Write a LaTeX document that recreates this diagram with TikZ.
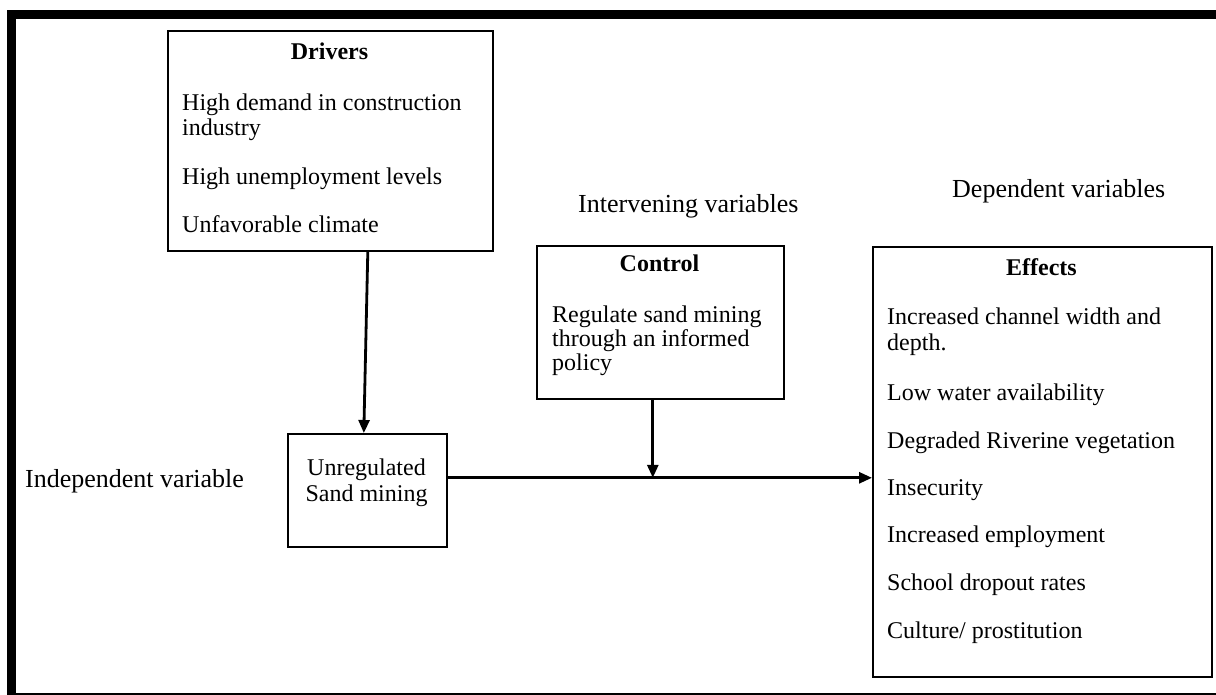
\documentclass[tikz,border=0pt]{standalone}
\usepackage{fontspec}
\setmainfont{Liberation Serif}
\usetikzlibrary{arrows.meta}
\begin{document}
\begin{tikzpicture}[x=1pt,y=-1pt,
  box/.style={draw, line width=1.6pt, inner sep=0pt, anchor=north west},
  txt/.style={anchor=base west, inner sep=0pt, font=\fontsize{24}{27}\selectfont},
  ctxt/.style={anchor=base, inner sep=0pt, font=\fontsize{24}{27}\selectfont},
  ttl/.style={anchor=base, inner sep=0pt, font=\fontsize{24}{27}\selectfont\bfseries},
  lbl/.style={anchor=base west, inner sep=0pt, font=\fontsize{26}{30}\selectfont},
  conn/.style={line width=2.8pt, -{Triangle[length=13pt,width=11pt]}}]
\useasboundingbox (0,0) rectangle (1216,695);
% frame
\fill (7,10) rectangle (1216,19);
\fill (7,10) rectangle (16,695);
\draw[line width=1.8pt] (7,694) -- (1216,694);
% boxes
\node[box, minimum width=325pt, minimum height=220pt] (drv) at (167,30) {};
\node[box, minimum width=159pt, minimum height=113pt] (unr) at (287,433) {};
\node[box, minimum width=247pt, minimum height=153pt] (ctl) at (536,245) {};
\node[box, minimum width=339pt, minimum height=430pt] (eff) at (872,246) {};
% drivers text
\node[ttl] (drvT) at (329.5,60) {Drivers};
\node[txt] (drv1) at (182,111) {High demand in construction};
\node[txt] (drv1b) at (182,136) {industry};
\node[txt] (drv2) at (182,185) {High unemployment levels};
\node[txt] (drv3) at (182,233) {Unfavorable climate};
% control text
\node[ttl] (ctlT) at (659.5,272) {Control};
\node[txt] (ctl1) at (552,322) {Regulate sand mining};
\node[txt] (ctl2) at (552,346) {through an informed};
\node[txt] (ctl3) at (552,370) {policy};
% effects text
\node[ttl] (effT) at (1041.5,276) {Effects};
\node[txt] (eff1) at (887,324) {Increased channel width and};
\node[txt] (eff1b) at (887,350) {depth.};
\node[txt] (eff2) at (887,400) {Low water availability};
\node[txt] (eff3) at (887,448) {Degraded Riverine vegetation};
\node[txt] (eff4) at (887,495) {Insecurity};
\node[txt] (eff5) at (887,542) {Increased employment};
\node[txt] (eff6) at (887,590) {School dropout rates};
\node[txt] (eff7) at (887,638) {Culture/ prostitution};
% unregulated text
\node[ctxt] (unr1) at (366.5,475) {Unregulated};
\node[ctxt] (unr2) at (366.5,501) {Sand mining};
% labels
\node[lbl] (indep) at (25,487) {Independent variable};
\node[lbl] (interv) at (578,213) {Intervening variables};
\node[lbl] (dep) at (952,198) {Dependent variables};
% connectors
\draw[conn] ([xshift=37.5pt]drv.south) -- ([xshift=-3.5pt]unr.north);
\coordinate (hl) at ([yshift=12.5pt]unr.east);
\draw[conn] (hl) -- (hl -| eff.west);
\coordinate (cs) at ([xshift=-7.5pt]ctl.south);
\draw[conn] (cs) -- (cs |- hl);
\end{tikzpicture}
\end{document}
